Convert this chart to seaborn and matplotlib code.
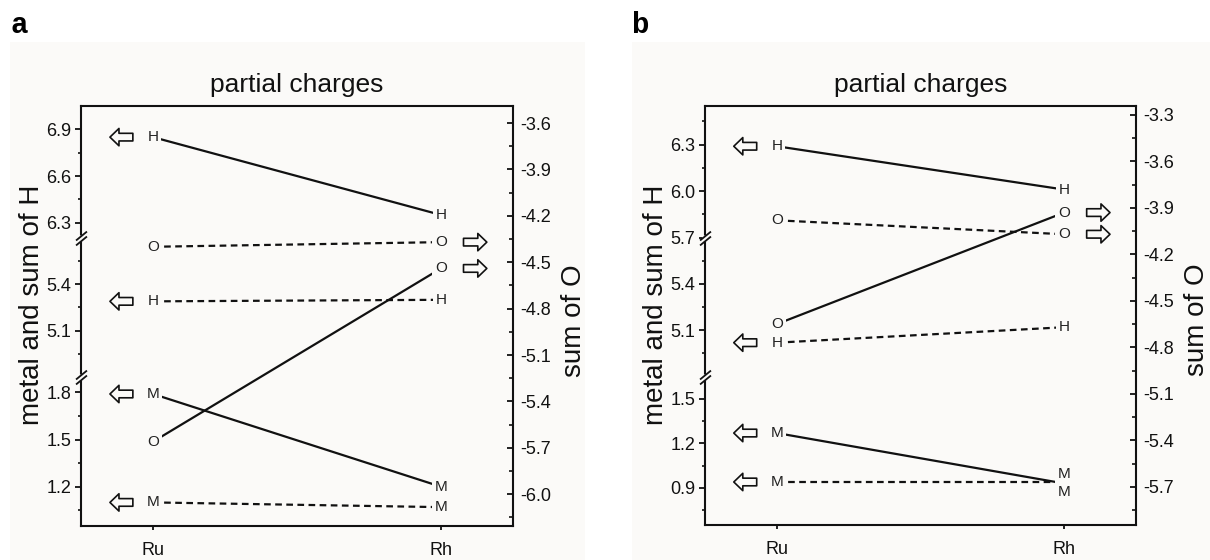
import numpy as np
import pandas as pd
import matplotlib
matplotlib.use("Agg")
import matplotlib.pyplot as plt
import matplotlib.transforms as mtransforms
from matplotlib.patches import ArrowStyle, Rectangle
from matplotlib.path import Path
from matplotlib.ticker import FixedLocator, FormatStrFormatter
import seaborn as sns

# ---------------- data ----------------
metals = ["Ru", "Rh"]

# panel a
a_H_solid = [6.85, 6.35]
a_H_dash = [5.29, 5.30]
a_M_solid = [1.79, 1.20]
a_M_dash = [1.10, 1.07]
a_O_solid = [-5.66, -4.54]
a_O_dash = [-4.40, -4.37]

# panel b
b_H_solid = [6.29, 6.01]
b_H_dash = [5.02, 5.12]
b_M_solid = [1.27, 0.93]
b_M_dash = [0.94, 0.94]
b_O_solid = [-4.65, -3.93]
b_O_dash = [-3.98, -4.07]

# left (broken) axis: value segments and right axis range
a_left_segments = [(0.95, 1.9), (4.8, 5.7), (6.2, 7.05)]
b_left_segments = [(0.65, 1.65), (4.8, 5.7), (5.7, 6.55)]
a_left_ticks = [1.2, 1.5, 1.8, 5.1, 5.4, 6.3, 6.6, 6.9]
a_left_minor = [1.05, 1.35, 1.65, 4.95, 5.25, 5.55, 6.45, 6.75]
b_left_ticks = [0.9, 1.2, 1.5, 5.1, 5.4, 5.7, 6.0, 6.3]
b_left_minor = [0.75, 1.05, 1.35, 4.95, 5.25, 5.55, 5.85, 6.15, 6.45]
a_right_lim = (-6.205, -3.49)
b_right_lim = (-5.947, -3.242)
a_right_ticks = [-6.0, -5.7, -5.4, -5.1, -4.8, -4.5, -4.2, -3.9, -3.6]
a_right_minor = [-6.15, -5.85, -5.55, -5.25, -4.95, -4.65, -4.35, -4.05, -3.75]
b_right_ticks = [-5.7, -5.4, -5.1, -4.8, -4.5, -4.2, -3.9, -3.6, -3.3]
b_right_minor = [-5.85, -5.55, -5.25, -4.95, -4.65, -4.35, -4.05, -3.75, -3.45]

# ---------------- style ----------------
sns.set_theme(style="ticks")
INK = "#111111"
BG = "#fbfaf8"
plt.rcParams.update({
    "font.family": ["Liberation Sans", "DejaVu Sans"],
    "axes.unicode_minus": False,
    "axes.edgecolor": INK,
    "axes.labelcolor": INK,
    "text.color": INK,
    "xtick.color": INK,
    "ytick.color": INK,
    "axes.linewidth": 1.5,
})

fig = plt.figure(figsize=(12.1, 5.6), dpi=100)
fig.patch.set_facecolor("white")
# light panel backgrounds
fig.patches.append(Rectangle((10 / 1210, 0), 575 / 1210, 1 - 42 / 560,
                             transform=fig.transFigure, fc=BG, ec="none", zorder=-10))
fig.patches.append(Rectangle((632 / 1210, 0), 578 / 1210, 1 - 42 / 560,
                             transform=fig.transFigure, fc=BG, ec="none", zorder=-10))


def broken_scale(segments, fracs):
    xp, fp = [], []
    for (lo, hi), f0, f1 in zip(segments, fracs[:-1], fracs[1:]):
        xp += [lo, hi]
        fp += [f0, f1]
    xp = np.array(xp, float)
    fp = np.array(fp, float)
    s0 = (fp[1] - fp[0]) / (xp[1] - xp[0])
    s1 = (fp[-1] - fp[-2]) / (xp[-1] - xp[-2])

    def fwd(v):
        v = np.asarray(v, float)
        out = np.interp(v, xp, fp)
        out = np.where(v < xp[0], fp[0] + (v - xp[0]) * s0, out)
        out = np.where(v > xp[-1], fp[-1] + (v - xp[-1]) * s1, out)
        return out

    def inv(f):
        f = np.asarray(f, float)
        out = np.interp(f, fp, xp)
        out = np.where(f < fp[0], xp[0] + (f - fp[0]) / s0, out)
        out = np.where(f > fp[-1], xp[-1] + (f - fp[-1]) / s1, out)
        return out

    return fwd, inv


slash = Path([(-5.5, -7), (5.5, 2), (-5.5, -2), (5.5, 7)],
             [Path.MOVETO, Path.LINETO, Path.MOVETO, Path.LINETO])
arrow_style = ArrowStyle.Simple(head_length=0.65, head_width=1.25, tail_width=0.55)


def hollow_arrow(ax, x, y, side):
    if side == "left":
        base = mtransforms.offset_copy(ax.transData, fig=fig, x=-31, y=0, units="points")
        tail = (16.5, 0)
    else:
        base = mtransforms.offset_copy(ax.transData, fig=fig, x=33, y=0, units="points")
        tail = (-16.8, 0)
    ax.annotate("", xy=(x, y), xycoords=base, xytext=tail, textcoords="offset points",
                arrowprops=dict(arrowstyle=arrow_style, mutation_scale=10, fc=BG, ec=INK,
                                lw=1.2, shrinkA=0, shrinkB=0), zorder=6)


def draw_series(ax, values, letter, dashed, arrow_side, label_offsets=(0, 0)):
    df = pd.DataFrame({"pos": np.arange(len(metals)), "value": values})
    ls = (0, (3, 2)) if dashed else "-"
    sns.lineplot(data=df, x="pos", y="value", ax=ax, color=INK, lw=1.6,
                 linestyle=ls, legend=False, zorder=2)
    for i, v in enumerate(values):
        ax.annotate(letter, xy=(i, v), xytext=(0, label_offsets[i]),
                    textcoords="offset points", ha="center", va="center",
                    fontsize=11, color="#222222", zorder=4,
                    bbox=dict(boxstyle="square,pad=0.18", fc=BG, ec="none"))
    if arrow_side == "left":
        hollow_arrow(ax, 0, values[0], "left")
    else:
        hollow_arrow(ax, len(values) - 1, values[-1], "right")


panels = [
    dict(tag="a", rect=(81, 106, 513, 526), segs=a_left_segments,
         fracs=[0, 0.3555, 0.685, 1], lt=a_left_ticks, lm=a_left_minor,
         rlim=a_right_lim, rt=a_right_ticks, rm=a_right_minor,
         left=[(a_H_solid, "H", False, (0, 0)), (a_H_dash, "H", True, (0, 0)),
               (a_M_solid, "M", False, (0, 0)), (a_M_dash, "M", True, (0, 0))],
         right=[(a_O_solid, "O", False), (a_O_dash, "O", True)],
         tagpos=(10, 33), ylab_x=-0.0822),
    dict(tag="b", rect=(705, 106, 1136, 525), segs=b_left_segments,
         fracs=[0, 0.354, 0.686, 1], lt=b_left_ticks, lm=b_left_minor,
         rlim=b_right_lim, rt=b_right_ticks, rm=b_right_minor,
         left=[(b_H_solid, "H", False, (0, 0)), (b_H_dash, "H", True, (0, 0)),
               (b_M_solid, "M", False, (0, 7)), (b_M_dash, "M", True, (0, -7))],
         right=[(b_O_solid, "O", False), (b_O_dash, "O", True)],
         tagpos=(632, 33), ylab_x=-0.0835),
]

W, H = 1210, 560
for p in panels:
    x0, y0, x1, y1 = p["rect"]
    ax = fig.add_axes([x0 / W, 1 - y1 / H, (x1 - x0) / W, (y1 - y0) / H])
    ax.set_facecolor("none")
    fwd, inv = broken_scale(p["segs"], p["fracs"])
    ax.set_yscale("function", functions=(fwd, inv))
    ax2 = ax.twinx()

    for values, letter, dashed, offs in p["left"]:
        draw_series(ax, values, letter, dashed, "left", offs)
    for values, letter, dashed in p["right"]:
        draw_series(ax2, values, letter, dashed, "right")

    ax.set_xlim(-0.25, 1.25)
    ax.set_ylim(p["segs"][0][0], p["segs"][-1][1])
    ax2.set_ylim(*p["rlim"])

    ax.set_xticks(range(len(metals)))
    ax.set_xticklabels(metals)
    ax.yaxis.set_major_locator(FixedLocator(p["lt"]))
    ax.yaxis.set_minor_locator(FixedLocator(p["lm"]))
    ax.yaxis.set_major_formatter(FormatStrFormatter("%.1f"))
    ax2.yaxis.set_major_locator(FixedLocator(p["rt"]))
    ax2.yaxis.set_minor_locator(FixedLocator(p["rm"]))
    ax2.yaxis.set_major_formatter(FormatStrFormatter("%.1f"))

    ax.tick_params(axis="x", which="major", direction="out", length=3, width=1.3,
                   labelsize=13, pad=8.5, top=False)
    ax.tick_params(axis="x", which="minor", bottom=False, top=False)
    ax.tick_params(axis="y", which="major", direction="out", length=4.5, width=1.3,
                   labelsize=13, pad=2.5, right=False)
    ax.tick_params(axis="y", which="minor", direction="out", length=2.5, width=1.2, right=False)
    ax2.tick_params(axis="y", which="major", direction="in", length=4, width=1.3,
                    labelsize=13, pad=5, left=False)
    ax2.tick_params(axis="y", which="minor", direction="in", length=3, width=1.2, left=False)

    for s in ("left", "top", "bottom"):
        ax2.spines[s].set_visible(False)
    ax.spines["right"].set_visible(False)
    for sp in list(ax.spines.values()) + list(ax2.spines.values()):
        sp.set_linewidth(1.5)
        sp.set_color(INK)

    ax.set_xlabel("")
    ax.set_ylabel("metal and sum of H", fontsize=20)
    ax.yaxis.set_label_coords(p["ylab_x"], 0.526)
    ax2.set_ylabel("sum of O", fontsize=20)
    ax2.yaxis.set_label_coords(1.112, 0.49)
    ax.set_title("partial charges", fontsize=19, pad=10)

    # axis-break marks on the left spine
    for f in p["fracs"][1:-1]:
        ax.plot([0], [f], transform=ax.transAxes, marker="s", ms=4.5, mfc=BG, mec="none",
                clip_on=False, zorder=5)
        ax.plot([0], [f], transform=ax.transAxes, marker=slash, ms=10, mfc="none",
                mec=INK, mew=1.3, clip_on=False, zorder=6)

    fig.text(p["tagpos"][0] / W, 1 - p["tagpos"][1] / H, p["tag"],
             family=["Liberation Mono", "DejaVu Sans Mono"], fontweight="bold",
             fontsize=21, ha="left", va="baseline", color="black")

fig.savefig("out.png", dpi=100, facecolor=fig.get_facecolor())
